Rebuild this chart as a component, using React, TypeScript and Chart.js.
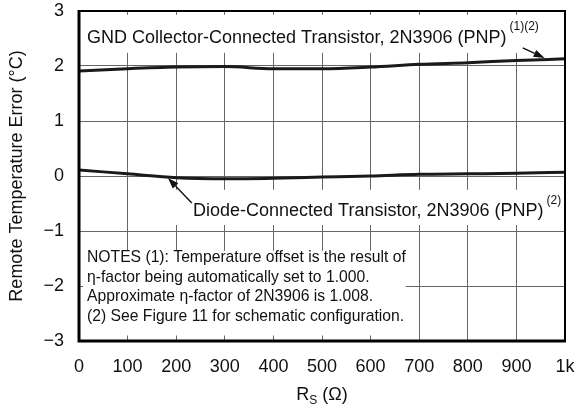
import React, { useEffect, useRef } from "react";
import { Chart, registerables } from "chart.js";

Chart.register(...registerables);

const rsValues = [0, 100, 200, 300, 400, 500, 600, 700, 800, 900, 1000];
const gndCollector = [1.91, 1.95, 1.98, 1.99, 1.95, 1.95, 1.98, 2.03, 2.06, 2.1, 2.13];
const diodeConnected = [0.11, 0.04, -0.03, -0.05, -0.04, -0.02, 0.0, 0.03, 0.04, 0.05, 0.07];
const yTickValues = [-3, -2, -1, 0, 1, 2, 3];
const xTickLabels = ["0", "100", "200", "300", "400", "500", "600", "700", "800", "900", "1k"];

const gndLabel = "GND Collector-Connected Transistor, 2N3906 (PNP)";
const gndSup = "(1)(2)";
const diodeLabel = "Diode-Connected Transistor, 2N3906 (PNP)";
const diodeSup = "(2)";
const notesLines = [
  "NOTES (1): Temperature offset is the result of",
  "\u03b7-factor being automatically set to 1.000.",
  "Approximate \u03b7-factor of 2N3906 is 1.008.",
  "(2) See Figure 11 for schematic configuration.",
];
const yTitle = "Remote Temperature Error (\u00b0C)";

const FONT = "'Liberation Sans', Arial, Helvetica, sans-serif";

function arrow(ctx: CanvasRenderingContext2D, x1: number, y1: number, x2: number, y2: number) {
  const ang = Math.atan2(y2 - y1, x2 - x1);
  const head = 11;
  const w = 3.8;
  const bx = x2 - head * Math.cos(ang);
  const by = y2 - head * Math.sin(ang);
  ctx.save();
  ctx.strokeStyle = "#111";
  ctx.fillStyle = "#111";
  ctx.lineWidth = 1.4;
  ctx.beginPath();
  ctx.moveTo(x1, y1);
  ctx.lineTo(bx, by);
  ctx.stroke();
  ctx.beginPath();
  ctx.moveTo(x2, y2);
  ctx.lineTo(bx + w * Math.sin(ang), by - w * Math.cos(ang));
  ctx.lineTo(bx - w * Math.sin(ang), by + w * Math.cos(ang));
  ctx.closePath();
  ctx.fill();
  ctx.restore();
}

const annotationPlugin = {
  id: "annotations",
  beforeDatasetsDraw(chart: any) {
    const ctx: CanvasRenderingContext2D = chart.ctx;
    const xs = chart.scales.x;
    const ys = chart.scales.y;
    const px = (v: number) => xs.getPixelForValue(v);
    const py = (v: number) => ys.getPixelForValue(v);
    const area = chart.chartArea;
    ctx.save();
    ctx.textBaseline = "middle";
    ctx.textAlign = "left";

    // GND label
    ctx.font = `18px ${FONT}`;
    const gx = px(16.5);
    const gy = py(2.5);
    const gw = ctx.measureText(gndLabel).width;
    ctx.font = `12px ${FONT}`;
    const gsw = ctx.measureText(gndSup).width;
    ctx.fillStyle = "#fff";
    ctx.fillRect(area.left + 2, py(2.93), gx + gw + gsw + 6 - area.left, py(2.24) - py(2.93));
    ctx.fillStyle = "#111";
    ctx.font = `18px ${FONT}`;
    ctx.fillText(gndLabel, gx, gy);
    ctx.font = `12px ${FONT}`;
    ctx.fillText(gndSup, gx + gw + 3, py(2.72));

    // Diode label
    ctx.font = `18px ${FONT}`;
    const dx = px(234.6);
    const dy = py(-0.64);
    const dw = ctx.measureText(diodeLabel).width;
    ctx.fillStyle = "#fff";
    ctx.fillRect(px(185), py(-0.25), area.right - 2 - px(185), py(-0.89) - py(-0.25));
    ctx.fillStyle = "#111";
    ctx.fillText(diodeLabel, dx, dy);
    ctx.font = `12px ${FONT}`;
    ctx.fillText(diodeSup, dx + dw + 3, py(-0.45));

    // Notes box
    ctx.fillStyle = "#fff";
    ctx.fillRect(area.left + 4, py(-1.36), px(672) - area.left - 4, py(-2.9) - py(-1.36));
    ctx.fillStyle = "#111";
    ctx.font = `15.7px ${FONT}`;
    const noteY = [-1.49, -1.855, -2.2, -2.555];
    notesLines.forEach((t, i) => ctx.fillText(t, px(16.5), py(noteY[i])));

    // arrows
    arrow(ctx, px(913), py(2.33), px(958), py(2.145));
    arrow(ctx, px(232), py(-0.49), px(183), py(-0.036));
    ctx.restore();
  },
  afterDraw(chart: any) {
    const ctx: CanvasRenderingContext2D = chart.ctx;
    const a = chart.chartArea;
    ctx.save();
    ctx.strokeStyle = "#000";
    ctx.lineWidth = 2;
    ctx.strokeRect(a.left, a.top, a.right - a.left, a.bottom - a.top);
    ctx.lineWidth = 3;
    ctx.beginPath();
    ctx.moveTo(a.left, a.top - 1);
    ctx.lineTo(a.left, a.bottom);
    ctx.lineTo(a.right + 1, a.bottom);
    ctx.stroke();

    // x title with subscript
    const cx = (a.left + a.right) / 2;
    const ty = 400;
    ctx.fillStyle = "#111";
    ctx.textBaseline = "alphabetic";
    ctx.textAlign = "left";
    ctx.font = `18px ${FONT}`;
    const wR = ctx.measureText("R").width;
    const wRest = ctx.measureText(" (\u03a9)").width;
    ctx.font = `12px ${FONT}`;
    const wS = ctx.measureText("S").width;
    let x0 = cx - (wR + wS + wRest) / 2;
    ctx.font = `18px ${FONT}`;
    ctx.fillText("R", x0, ty);
    ctx.font = `12px ${FONT}`;
    ctx.fillText("S", x0 + wR, ty + 4);
    ctx.font = `18px ${FONT}`;
    ctx.fillText(" (\u03a9)", x0 + wR + wS, ty);
    ctx.restore();
  },
};

export default function App() {
  const ref = useRef<HTMLCanvasElement | null>(null);
  useEffect(() => {
    if (!ref.current) return;
    const chart = new Chart(ref.current, {
      type: "line",
      data: {
        datasets: [
          {
            label: "GND",
            data: rsValues.map((x, i) => ({ x, y: gndCollector[i] })),
            borderColor: "#1a1a1a",
            borderWidth: 3,
            pointRadius: 0,
            tension: 0.4,
            cubicInterpolationMode: "monotone",
          },
          {
            label: "Diode",
            data: rsValues.map((x, i) => ({ x, y: diodeConnected[i] })),
            borderColor: "#1a1a1a",
            borderWidth: 3,
            pointRadius: 0,
            tension: 0.4,
            cubicInterpolationMode: "monotone",
          },
        ],
      },
      options: {
        responsive: false,
        animation: false,
        events: [],
        layout: { padding: { left: 0, right: 10, top: 11, bottom: 0 } },
        plugins: { legend: { display: false }, tooltip: { enabled: false } },
        scales: {
          x: {
            type: "linear",
            min: 0,
            max: 1000,
            afterBuildTicks: (s: any) => {
              s.ticks = rsValues.map((v) => ({ value: v }));
            },
            ticks: {
              padding: 15,
              maxRotation: 0,
              autoSkip: false,
              color: "#111",
              font: { family: FONT, size: 18 },
              callback: (v: any, i: number) => xTickLabels[i],
            },
            grid: { color: "#666", lineWidth: 1, drawTicks: false },
            border: { display: false },
            afterFit: (s: any) => {
              s.height = 66;
              s.paddingLeft = 0;
              s.paddingRight = 0;
            },
          },
          y: {
            type: "linear",
            min: -3,
            max: 3,
            afterBuildTicks: (s: any) => {
              s.ticks = yTickValues.map((v) => ({ value: v }));
            },
            ticks: {
              padding: 15,
              color: "#111",
              font: { family: FONT, size: 18 },
              callback: (v: any) => (v < 0 ? "\u2212" + Math.abs(v) : String(v)),
            },
            grid: { color: "#666", lineWidth: 1, drawTicks: false },
            border: { display: false },
            title: {
              display: true,
              text: yTitle,
              color: "#111",
              font: { family: FONT, size: 18 },
              padding: { top: 6, bottom: 0 },
            },
            afterFit: (s: any) => {
              s.width = 79;
              s.paddingTop = 0;
              s.paddingBottom = 0;
            },
          },
        },
      },
      plugins: [annotationPlugin],
    } as any);
    return () => chart.destroy();
  }, []);
  return (
    <div style={{ position: "absolute", left: 0, top: 0, width: 575, height: 407, background: "#fff" }}>
      <canvas ref={ref} width={575} height={407} style={{ display: "block" }} />
    </div>
  );
}
